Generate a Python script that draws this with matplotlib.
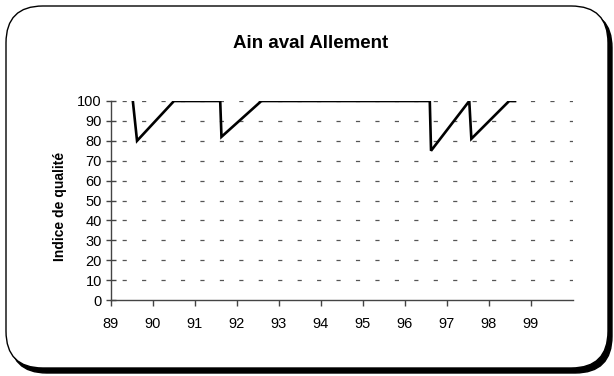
import numpy as np
import matplotlib
matplotlib.use("Agg")
import matplotlib.pyplot as plt
from matplotlib.patches import FancyBboxPatch

plt.rcParams['font.family'] = ['Liberation Sans', 'DejaVu Sans']
plt.rcParams['lines.scale_dashes'] = False

# data
annees = [89.52, 89.62, 90.50, 91.60, 91.63, 92.58, 96.59, 96.62, 97.53, 97.58, 98.48, 98.62]
indice = [100, 80, 100, 100, 82, 100, 100, 75, 100, 81, 100, 100]
xticks = [89, 90, 91, 92, 93, 94, 95, 96, 97, 98, 99]
yticks = [0, 10, 20, 30, 40, 50, 60, 70, 80, 90, 100]

W, H = 614, 376
fig = plt.figure(figsize=(W / 100, H / 100), dpi=100)

# rounded frame with shadow
shadow = FancyBboxPatch((10 / W, 3 / H), 602 / W, 362 / H,
                        boxstyle="round,pad=0,rounding_size=0.06",
                        transform=fig.transFigure, facecolor='black',
                        edgecolor='black', mutation_aspect=W / H, zorder=-10)
frame = FancyBboxPatch((6 / W, 8 / H), 602 / W, 362 / H,
                       boxstyle="round,pad=0,rounding_size=0.06",
                       transform=fig.transFigure, facecolor='white',
                       edgecolor='black', linewidth=1, mutation_aspect=W / H, zorder=-9)
fig.patches.extend([shadow, frame])

ax = fig.add_axes([111 / W, 1 - 300 / H, (573 - 111) / W, (300 - 101) / H])
ax.patch.set_alpha(0)

for v in yticks[1:]:
    ax.axhline(v, color='#555555', lw=0.9, linestyle=(6, (3, 11)), zorder=1)

ax.plot(annees, indice, color='black', lw=1.9, zorder=3, solid_joinstyle='miter')

ax.set_xlim(89, 100)
ax.set_ylim(0, 100)
ax.set_xticks(xticks)
ax.set_yticks(yticks)
for s in ['top', 'right']:
    ax.spines[s].set_visible(False)
for s in ['left', 'bottom']:
    ax.spines[s].set_color('#444444')
    ax.spines[s].set_linewidth(1)
    ax.spines[s].set_clip_on(False)
ax.tick_params(axis='y', direction='inout', length=7, width=1, color='#444444',
               labelsize=10.5, pad=3)
ax.tick_params(axis='x', direction='out', length=4, width=1, color='#444444',
               labelsize=10.5, pad=8)

ax.set_ylabel('Indice de qualité', fontsize=10, fontweight='bold')
ax.yaxis.set_label_coords(-0.095, 0.47)
fig.text(311 / W, 1 - 44 / H, 'Ain aval Allement', ha='center', va='center',
         fontsize=13.5, fontweight='bold')

fig.savefig('out.png', dpi=100)
